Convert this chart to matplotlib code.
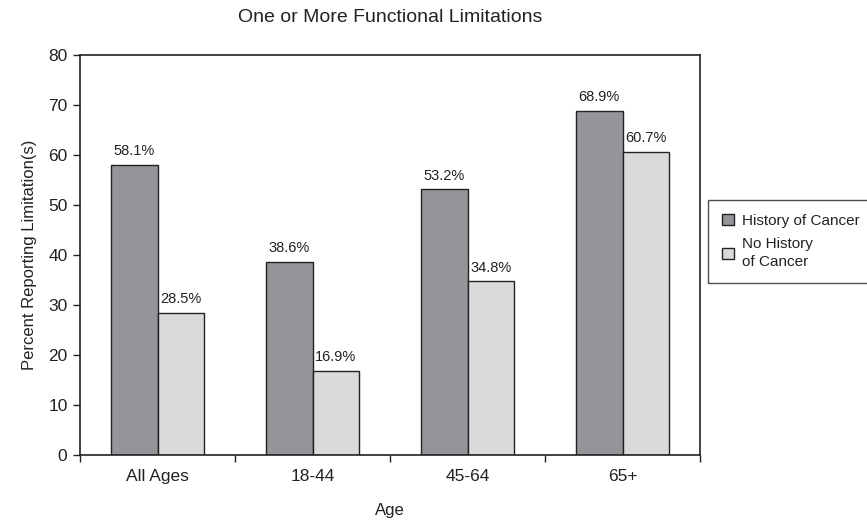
import matplotlib
matplotlib.use("Agg")
import matplotlib.pyplot as plt
import numpy as np

plt.rcParams['font.family'] = ['Liberation Sans', 'DejaVu Sans']

categories = ["All Ages", "18-44", "45-64", "65+"]
history = [58.1, 38.6, 53.2, 68.9]
no_history = [28.5, 16.9, 34.8, 60.7]
series_labels = ["History of Cancer", "No History\nof Cancer"]

fig = plt.figure(figsize=(8.67, 5.2), dpi=100)
ax = fig.add_axes([80/867, 65/520, 620/867, 400/520])

x = np.arange(len(categories))
w = 0.3
b1 = ax.bar(x - w/2, history, w, color="#939598", edgecolor="#222222", linewidth=1.0, label=series_labels[0])
b2 = ax.bar(x + w/2, no_history, w, color="#d9dadc", edgecolor="#222222", linewidth=1.0, label=series_labels[1])

for bars, vals in ((b1, history), (b2, no_history)):
    for r, v in zip(bars, vals):
        ax.text(r.get_x() + r.get_width()/2, v + 1.3, f"{v:.1f}%", ha="center", va="bottom",
                fontsize=10.5, color="#222222")

ax.set_xlim(-0.5, 3.5)
ax.set_ylim(0, 80)
ax.set_yticks(range(0, 81, 10))
ax.set_xticks(x)
ax.set_xticklabels(categories)
ax.set_xticks(np.arange(-0.5, 3.6, 1), minor=True)
ax.tick_params(axis='x', which='major', length=0, pad=10, labelsize=12.5, labelcolor="#222222")
ax.tick_params(axis='x', which='minor', length=5, direction='out', width=1, color="#222222")
ax.tick_params(axis='y', length=5, direction='out', width=1, color="#222222", labelsize=12.5,
               pad=4, labelcolor="#222222")
for s in ax.spines.values():
    s.set_color("#222222")
    s.set_linewidth(1.2)

ax.set_xlabel("Age", fontsize=12, labelpad=14, color="#222222")
ax.set_ylabel("Percent Reporting Limitation(s)", fontsize=12, labelpad=8, color="#222222")
fig.text(390/867, 1 - 18/520, "One or More Functional Limitations", ha="center", va="center",
         fontsize=14, color="#222222")

leg = ax.legend(loc="upper left", bbox_to_anchor=(708/867, 1 - 200/520), bbox_transform=fig.transFigure,
                frameon=True, fancybox=False, edgecolor="#222222", fontsize=11,
                handlelength=0.8, handleheight=0.8, handletextpad=0.5, borderpad=0.9,
                labelspacing=0.6, borderaxespad=0)
leg.get_frame().set_linewidth(1.0)
for t in leg.get_texts():
    t.set_linespacing(1.4)
    t.set_color("#222222")

fig.savefig("out.png", dpi=100)
